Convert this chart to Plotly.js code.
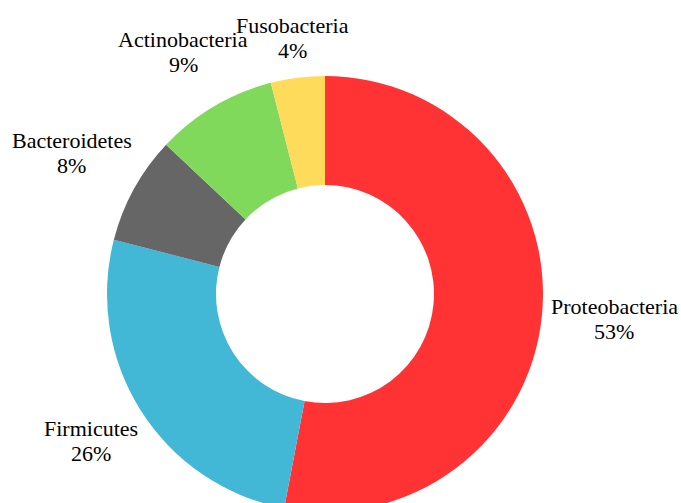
<!DOCTYPE html>
<html>
<head>
<meta charset="utf-8">
<script src="https://cdn.plot.ly/plotly-3.0.1.min.js"></script>
<style>
html,body{margin:0;padding:0;overflow:hidden;background:#fff;width:681px;height:503px;}
#chart{width:681px;height:588px;}
</style>
</head>
<body>
<div id="chart"></div>
<script>
const categories = ["Proteobacteria", "Firmicutes", "Bacteroidetes", "Actinobacteria", "Fusobacteria"];
const values = [53, 26, 8, 9, 4];
const colors = ["#FF3333", "#42B7D6", "#666666", "#80D95A", "#FFDB5C"];

const W = 681, H = 588;
const M = {l: 0, r: 0, t: 76, b: 76};
const domX = [0, 650/681], domY = [0, 1];
const FONT = "Liberation Serif";
const FS = 22;
const GAP = 7;
const LINE = 25;

// geometry of the pie as Plotly lays it out
const pw = W - M.l - M.r, ph = H - M.t - M.b;
const cxPaper = (domX[0] + domX[1]) / 2, cyPaper = (domY[0] + domY[1]) / 2;
const R = Math.min((domX[1]-domX[0]) * pw, (domY[1]-domY[0]) * ph) / 2;

const ctx = document.createElement("canvas").getContext("2d");
ctx.font = FS + "px '" + FONT + "'";

const total = values.reduce((a, b) => a + b, 0);
let cum = 0;
const annotations = [];
categories.forEach((name, i) => {
  const pct = Math.round(values[i] / total * 100) + "%";
  const mid = (cum + values[i] / 2) / total * 2 * Math.PI;
  cum += values[i];
  const ux = Math.sin(mid), uy = Math.cos(mid); // uy: upward component
  const w = Math.max(ctx.measureText(name).width, ctx.measureText(pct).width);
  const h = FS * 2.2;
  const D = R + GAP + (w / 2) * Math.abs(ux) + (h / 2) * Math.abs(uy);
  const x = cxPaper + D * ux / pw;
  const y = cyPaper + D * uy / ph;
  [[name, LINE / 2 + 2], [pct, -LINE / 2 + 2]].forEach(([txt, off]) => {
    annotations.push({
      xref: "paper", yref: "paper",
      x: x, y: y + off / ph,
      xanchor: "center", yanchor: "middle",
      text: txt,
      showarrow: false,
      font: {family: FONT, size: FS, color: "#000"}
    });
  });
});

Plotly.newPlot("chart", [{
  type: "pie",
  labels: categories,
  values: values,
  hole: 0.5,
  sort: false,
  direction: "clockwise",
  rotation: 0,
  marker: {colors: colors, line: {width: 0}},
  textinfo: "none",
  hoverinfo: "none",
  domain: {x: domX, y: domY},
  automargin: false,
  showlegend: false
}], {
  width: W,
  height: H,
  margin: M,
  paper_bgcolor: "#fff",
  showlegend: false,
  annotations: annotations
}, {staticPlot: true, displayModeBar: false});
</script>
</body>
</html>
